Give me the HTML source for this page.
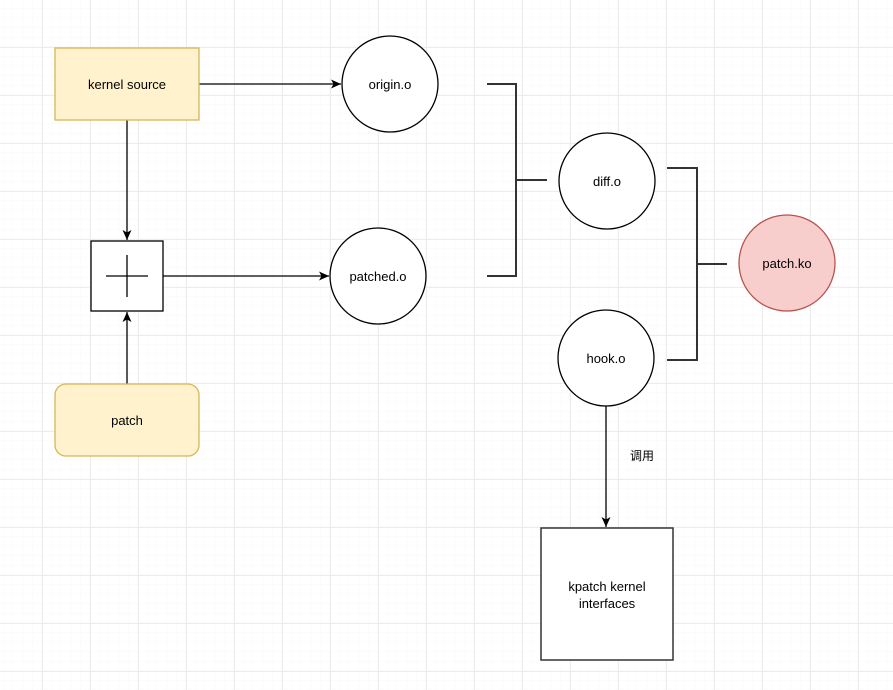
<!DOCTYPE html>
<html><head><meta charset="utf-8"><style>
html,body{margin:0;padding:0;background:#fff;}
svg{display:block;font-family:"Liberation Sans","Noto Sans CJK SC",sans-serif;}
</style></head><body>
<svg width="893" height="690" viewBox="0 0 893 690" xmlns="http://www.w3.org/2000/svg">
<defs>
<pattern id="minor" x="42" y="47" width="9.6" height="9.6" patternUnits="userSpaceOnUse">
<path d="M9.6 0V9.6M0 9.6H9.6" stroke="#f7f7f7" stroke-width="1" fill="none"/>
</pattern>
<pattern id="major" x="42" y="47" width="48" height="48" patternUnits="userSpaceOnUse">
<path d="M0.5 0V48M0 0.5H48" stroke="#ededed" stroke-width="1" fill="none"/>
</pattern>
<marker id="ar" markerWidth="12" markerHeight="12" refX="10" refY="6" orient="auto" markerUnits="userSpaceOnUse">
<path d="M0,1.5 L10,6 L0,10.5 L2.5,6 Z" fill="#000"/>
</marker>
</defs>
<rect width="893" height="690" fill="url(#minor)"/>
<rect width="893" height="690" fill="url(#major)"/>
<g stroke="#000" stroke-width="1.3" fill="none">
<line x1="199" y1="84" x2="341" y2="84" marker-end="url(#ar)"/>
<line x1="127" y1="120" x2="127" y2="240" marker-end="url(#ar)"/>
<line x1="127" y1="384" x2="127" y2="312" marker-end="url(#ar)"/>
<line x1="163" y1="276" x2="329" y2="276" marker-end="url(#ar)"/>
<line x1="606" y1="406" x2="606" y2="527" marker-end="url(#ar)"/>
</g>
<g stroke="#333" stroke-width="2" fill="none">
<path d="M487 84H516V276H487M516 180H547"/>
<path d="M667 168H697V360H667M697 264H727"/>
</g>
<rect x="55" y="48" width="144" height="72" fill="#fff2cc" stroke="#d6b656" stroke-width="1.3"/>
<rect x="55" y="384" width="144" height="72" rx="11" fill="#fff2cc" stroke="#d6b656" stroke-width="1.3"/>
<rect x="91" y="241" width="72" height="70" fill="#fff" stroke="#000" stroke-width="1.3"/>
<path d="M106 276H148M127 255V297" stroke="#000" stroke-width="1.3"/>
<g fill="#fff" stroke="#000" stroke-width="1.3">
<circle cx="390" cy="84" r="48"/>
<circle cx="378" cy="276" r="48"/>
<circle cx="607" cy="181" r="48"/>
<circle cx="606" cy="358" r="48"/>
</g>
<circle cx="787" cy="263" r="48" fill="#f8cecc" stroke="#b85450" stroke-width="1.3"/>
<rect x="541" y="528" width="132" height="132" fill="#fff" stroke="#333" stroke-width="1.5"/>
<g font-size="13" fill="#000" text-anchor="middle">
<text x="127" y="89">kernel source</text>
<text x="127" y="425">patch</text>
<text x="390" y="89">origin.o</text>
<text x="378" y="281">patched.o</text>
<text x="607" y="186">diff.o</text>
<text x="606" y="363">hook.o</text>
<text x="787" y="268">patch.ko</text>
<text x="607" y="591">kpatch kernel</text>
<text x="607" y="608">interfaces</text>
<text x="642" y="460" font-size="12">调用</text>
</g>
</svg>
</body></html>
